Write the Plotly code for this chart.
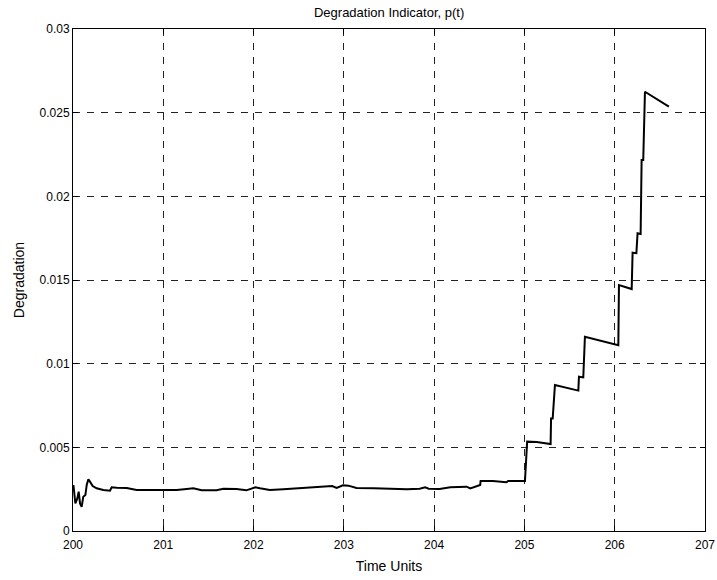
import plotly.graph_objects as go

time_units = [200.005, 200.026, 200.048, 200.063, 200.078, 200.096, 200.114, 200.137, 200.152,
              200.170, 200.188, 200.218, 200.262, 200.336, 200.41, 200.428, 200.484, 200.595,
              200.705, 200.853, 201.0, 201.148, 201.259, 201.333, 201.425, 201.59, 201.665,
              201.81, 201.92, 201.98, 202.02, 202.07, 202.18, 202.33, 202.44, 202.59, 202.77,
              202.87, 202.92, 202.99, 203.05, 203.14, 203.33, 203.47, 203.70, 203.84, 203.90,
              203.94, 204.06, 204.18, 204.29, 204.36, 204.40, 204.47, 204.51, 204.515, 204.65,
              204.80, 204.82, 205.006, 205.03, 205.135, 205.246, 205.29, 205.295, 205.313,
              205.338, 205.597, 205.604, 205.652, 205.67, 206.04, 206.047, 206.188, 206.198,
              206.24, 206.253, 206.287, 206.298, 206.316, 206.335, 206.60]
degradation = [0.00275, 0.00165, 0.00195, 0.00235, 0.00165, 0.00145, 0.00205, 0.00215, 0.00275,
               0.00309, 0.00295, 0.00269, 0.00255, 0.00245, 0.00241, 0.00261, 0.00259, 0.00257,
               0.00245, 0.00245, 0.00247, 0.00245, 0.00251, 0.00255, 0.00244, 0.00244, 0.00253,
               0.00251, 0.00243, 0.00255, 0.00261, 0.00255, 0.00245, 0.00249, 0.00253, 0.00257, 0.00265,
               0.00269, 0.00257, 0.00273, 0.00271, 0.00257, 0.00255, 0.00253, 0.00249, 0.00253, 0.00261,
               0.00253, 0.00251, 0.00261, 0.00266, 0.00265, 0.00255, 0.00269, 0.00275, 0.00299, 0.00299,
               0.00291, 0.00299, 0.00299, 0.00534, 0.00532, 0.00524, 0.0052, 0.00673, 0.00673,
               0.00873, 0.00839, 0.00922, 0.00918, 0.01161, 0.0111, 0.0147, 0.01446, 0.01663,
               0.0166, 0.01779, 0.01775, 0.02217, 0.02217, 0.02625, 0.02536]

x_ticks = [200, 201, 202, 203, 204, 205, 206, 207]
y_ticks = [0, 0.005, 0.01, 0.015, 0.02, 0.025, 0.03]
y_tick_labels = ["0", "0.005", "0.01", "0.015", "0.02", "0.025", "0.03"]

font_family = "Liberation Sans, Arial, sans-serif"

fig = go.Figure()
fig.add_trace(go.Scatter(x=time_units, y=degradation, mode="lines",
                         line=dict(color="black", width=2), showlegend=False))

axis_common = dict(
    showline=True, linecolor="black", linewidth=1, mirror="ticks",
    ticks="inside", ticklen=5, tickcolor="black", tickwidth=1,
    showgrid=True, gridcolor="#222222", gridwidth=1, griddash="7px,7px",
    zeroline=False, automargin=False,
    tickfont=dict(family=font_family, size=12, color="black"),
)

fig.update_xaxes(range=[200, 207], tickvals=x_ticks, ticktext=[str(v) for v in x_ticks],
                 ticklabelstandoff=3,
                 title=dict(text="Time Units", font=dict(family=font_family, size=14, color="black"),
                            standoff=9),
                 **axis_common)
fig.update_yaxes(range=[0, 0.03], tickvals=y_ticks, ticktext=y_tick_labels,
                 title=dict(text="Degradation", font=dict(family=font_family, size=14, color="black"),
                            standoff=11),
                 **axis_common)

fig.update_layout(
    width=717, height=580,
    margin=dict(l=73, r=12, t=29, b=49),
    paper_bgcolor="white", plot_bgcolor="white",
    title=dict(text="Degradation Indicator, p(t)", x=0.5427, xanchor="center",
               y=1 - 12 / 580, yanchor="middle",
               font=dict(family=font_family, size=13, color="black")),
)

fig.write_html("out.html")
